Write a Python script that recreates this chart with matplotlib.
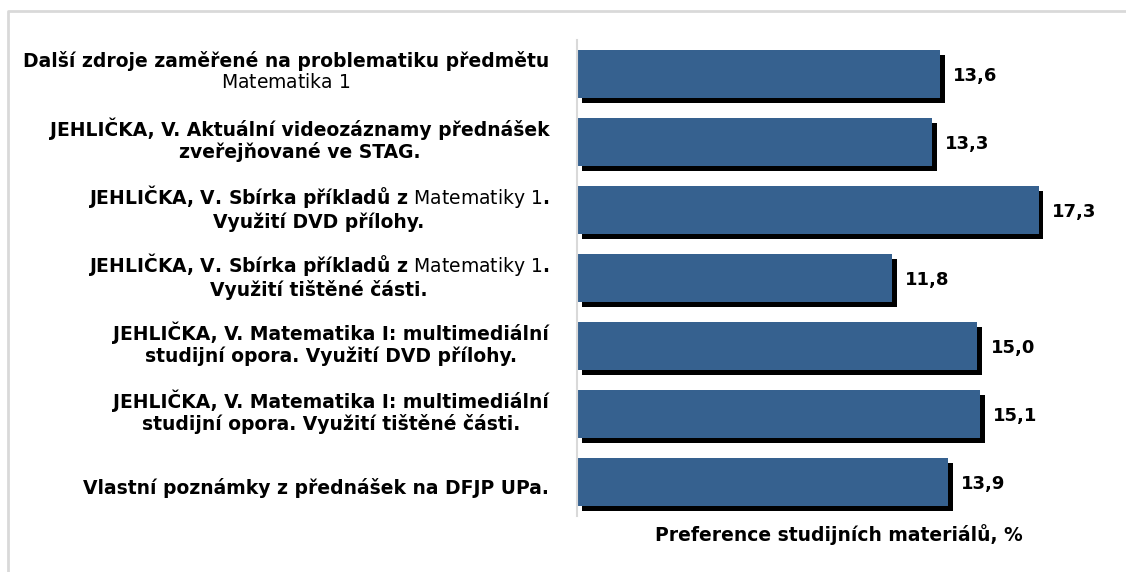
import matplotlib
matplotlib.use("Agg")
import matplotlib.pyplot as plt
import matplotlib.patheffects as pe
from matplotlib.transforms import ScaledTranslation

# data (top to bottom)
labels = [
    "Další zdroje zaměřené na problematiku předmětu\n$\\mathrm{Matematika\\ 1}$",
    "JEHLIČKA, V. Aktuální videozáznamy přednášek\nzveřejňované ve STAG.",
    "JEHLIČKA, V. Sbírka příkladů z $\\mathrm{Matematiky\\ 1}$.\nVyužití DVD přílohy.",
    "JEHLIČKA, V. Sbírka příkladů z $\\mathrm{Matematiky\\ 1}$.\nVyužití tištěné části.",
    "JEHLIČKA, V. Matematika I: multimediální\nstudijní opora. Využití DVD přílohy.",
    "JEHLIČKA, V. Matematika I: multimediální\nstudijní opora. Využití tištěné části.",
    "Vlastní poznámky z přednášek na DFJP UPa.",
]
values = [13.6, 13.3, 17.3, 11.8, 15.0, 15.1, 13.9]
xlabel = "Preference studijních materiálů, %"

plt.rcParams["font.family"] = "DejaVu Sans"
plt.rcParams["mathtext.fontset"] = "dejavusans"

fig = plt.figure(figsize=(11.26, 5.72), dpi=100)
ax = fig.add_axes([577 / 1126, 56 / 572, 523 / 1126, 476 / 572])

# rameček grafu (jen levá a horní strana je vidět)
fig.add_artist(plt.Line2D([8 / 1126, 8 / 1126, 1.0], [0.0, 1 - 11 / 572, 1 - 11 / 572],
                          color="#d9d9d9", lw=2, transform=fig.transFigure))

pos = list(range(len(values)))
shadow = [pe.SimplePatchShadow(offset=(3.5, -3.5), shadow_rgbFace="black", alpha=1.0),
          pe.Normal()]
bars = ax.barh(pos, values, height=0.7, color="#36618f", path_effects=shadow)

ax.set_xlim(0, 19.6)
ax.set_ylim(len(values) - 0.5, -0.5)

for s in ["top", "right", "bottom"]:
    ax.spines[s].set_visible(False)
ax.spines["left"].set_color("#d9d9d9")
ax.spines["left"].set_linewidth(1.5)

ax.set_xticks([])
ax.set_yticks(pos, labels)
ax.tick_params(axis="y", length=0, pad=20)
for t in ax.get_yticklabels():
    t.set_fontweight("bold")
    t.set_fontsize(13.5)
    t.set_multialignment("center")
    t.set_linespacing(1.15)
    # dvouřádkové popisky o kousek výš, jednořádkový níž
    dy = 4 / 72 if "\n" in t.get_text() else -3 / 72
    t.set_transform(t.get_transform() + ScaledTranslation(0, dy, fig.dpi_scale_trans))

for p, v in zip(pos, values):
    ax.annotate(f"{v:.1f}".replace(".", ","), xy=(v, p), xytext=(9.5, -1.5),
                textcoords="offset points", ha="left", va="center",
                fontsize=13, fontweight="bold")

ax.set_xlabel(xlabel, fontsize=13.5, fontweight="bold", labelpad=6)

fig.savefig("out.png", dpi=100)
